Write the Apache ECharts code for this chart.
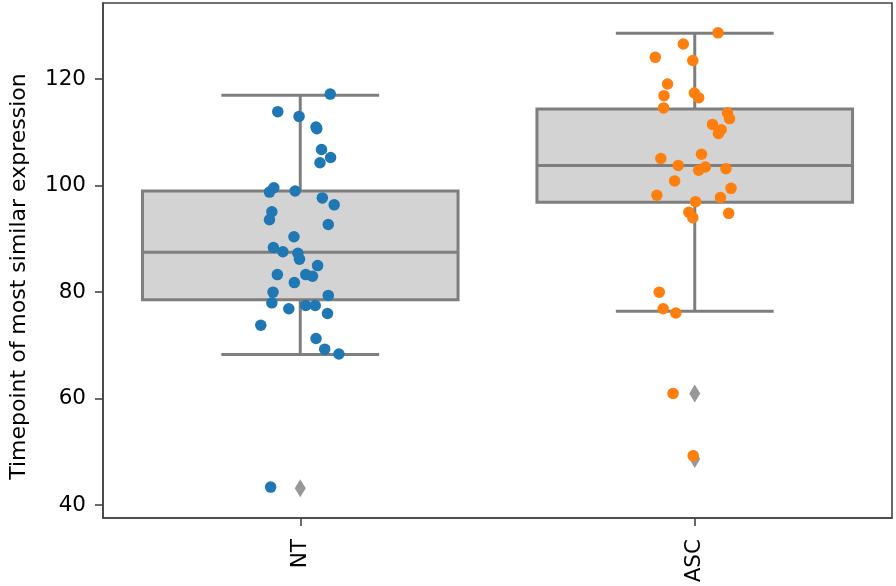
<!DOCTYPE html>
<html><head><meta charset="utf-8">
<script src="https://cdn.jsdelivr.net/npm/echarts@6/dist/echarts.min.js"></script>
<style>html,body{margin:0;padding:0;background:#fff}#c{width:896px;height:586px}</style>
</head><body><div id="c"></div>
<script>
const categories = ['NT', 'ASC'];
const yTicks = [40, 60, 80, 100, 120];
// box stats: [lower whisker, Q1, median, Q3, upper whisker]
const ntBox = [68.3, 78.6, 87.5, 99.0, 117.0];
const ascBox = [76.4, 96.9, 103.8, 114.4, 128.6];
const ntOutliers = [43.2];
const ascOutliers = [61.0, 48.7];
const ntValues = [117.2, 113.9, 113.0, 111.0, 110.7, 106.8, 105.3, 104.3, 99.6, 98.8, 99.0, 97.7, 96.4, 95.1, 93.6, 92.7, 90.4, 88.4, 87.6, 87.3, 86.2, 85.0, 83.3, 83.3, 83.0, 81.8, 80.0, 79.4, 78.0, 76.9, 77.5, 77.5, 76.0, 73.8, 71.3, 69.3, 68.4, 43.4];
const ntJitter = [0.076, -0.057, -0.003, 0.040, 0.042, 0.054, 0.077, 0.050, -0.067, -0.078, -0.013, 0.056, 0.086, -0.072, -0.078, 0.071, -0.016, -0.068, -0.044, -0.006, -0.002, 0.044, -0.058, 0.014, 0.031, -0.015, -0.069, 0.071, -0.072, -0.029, 0.014, 0.038, 0.069, -0.100, 0.040, 0.062, 0.098, -0.075];
const ascValues = [128.7, 126.6, 124.1, 123.5, 119.1, 116.9, 117.4, 116.5, 114.6, 113.7, 112.6, 111.5, 110.5, 109.8, 105.9, 105.1, 103.8, 103.5, 102.9, 103.2, 100.9, 99.5, 98.2, 97.8, 97.0, 95.0, 94.0, 94.8, 80.0, 76.9, 76.1, 61.0, 49.3];
const ascJitter = [0.059, -0.029, -0.100, -0.005, -0.069, -0.078, -0.001, 0.010, -0.079, 0.083, 0.088, 0.045, 0.067, 0.060, 0.017, -0.086, -0.042, 0.027, 0.010, 0.079, -0.051, 0.092, -0.096, 0.065, 0.002, -0.015, -0.005, 0.086, -0.090, -0.080, -0.048, -0.055, -0.004];

const lineGray = '#7e7e7e';
const boxFill = '#d3d3d3';
const frameColor = '#444';
const font = 'DejaVu Sans';
const fs = 21.5;

function renderBox(params, api) {
  const ci = api.value(0);
  const lo = api.coord([ci, api.value(1)]);
  const q1 = api.coord([ci, api.value(2)]);
  const md = api.coord([ci, api.value(3)]);
  const q3 = api.coord([ci, api.value(4)]);
  const hi = api.coord([ci, api.value(5)]);
  const bw = api.size([1, 0])[0] * 0.8;
  const cx = q1[0];
  const st = { stroke: lineGray, lineWidth: 3, fill: null };
  return {
    type: 'group',
    children: [
      { type: 'line', shape: { x1: cx, y1: q1[1], x2: cx, y2: lo[1] }, style: st },
      { type: 'line', shape: { x1: cx, y1: q3[1], x2: cx, y2: hi[1] }, style: st },
      { type: 'line', shape: { x1: cx - bw / 4, y1: lo[1], x2: cx + bw / 4, y2: lo[1] }, style: st },
      { type: 'line', shape: { x1: cx - bw / 4, y1: hi[1], x2: cx + bw / 4, y2: hi[1] }, style: st },
      { type: 'rect', shape: { x: cx - bw / 2, y: q3[1], width: bw, height: q1[1] - q3[1] }, style: { fill: boxFill, stroke: lineGray, lineWidth: 3 } },
      { type: 'line', shape: { x1: cx - bw / 2, y1: md[1], x2: cx + bw / 2, y2: md[1] }, style: st }
    ]
  };
}

const chart = echarts.init(document.getElementById('c'), null, { renderer: 'canvas' });
chart.setOption({
  animation: false,
  backgroundColor: '#ffffff',
  grid: { left: 97, right: 4, top: 3, bottom: 68, show: true, borderColor: frameColor, borderWidth: 1.6, backgroundColor: 'transparent' },
  xAxis: [
    {
      type: 'category', data: categories, boundaryGap: true,
      axisLine: { show: true, onZero: false, lineStyle: { color: frameColor, width: 1.6 } },
      axisTick: { show: true, alignWithLabel: true, length: 8, lineStyle: { color: frameColor, width: 1.6 } },
      axisLabel: { rotate: 90, margin: 21, fontSize: fs, color: '#000', fontFamily: font },
      splitLine: { show: false }
    },
    { type: 'value', min: -0.5, max: 1.5, show: false }
  ],
  yAxis: {
    type: 'value', min: 37.6, max: 134.3,
    name: 'Timepoint of most similar expression', nameLocation: 'middle', nameGap: 73, nameRotate: 90,
    nameTextStyle: { fontSize: 22, color: '#000', fontFamily: font, padding: [0, 32, 0, 0] },
    axisLine: { show: true, onZero: false, lineStyle: { color: frameColor, width: 1.6 } },
    axisTick: { show: true, length: 8, customValues: yTicks, lineStyle: { color: frameColor, width: 1.6 } },
    axisLabel: { customValues: yTicks, margin: 17, fontSize: fs, color: '#000', fontFamily: font },
    splitLine: { show: false }
  },
  series: [
    {
      type: 'custom', xAxisIndex: 0, renderItem: renderBox,
      encode: { x: 0, y: [1, 2, 3, 4, 5] },
      data: [[0].concat(ntBox), [1].concat(ascBox)], z: 2
    },
    {
      type: 'scatter', xAxisIndex: 0, symbol: 'diamond', symbolSize: [11, 18],
      itemStyle: { color: lineGray },
      data: ntOutliers.map(v => [0, v]).concat(ascOutliers.map(v => [1, v])), z: 3
    },
    {
      type: 'scatter', xAxisIndex: 1, symbolSize: 11.5, itemStyle: { color: '#1f77b4', opacity: 1 },
      data: ntValues.map((v, i) => [0 + ntJitter[i], v]), z: 4
    },
    {
      type: 'scatter', xAxisIndex: 1, symbolSize: 11.5, itemStyle: { color: '#ff7f0e', opacity: 1 },
      data: ascValues.map((v, i) => [1 + ascJitter[i], v]), z: 4
    }
  ]
});
</script>
</body></html>
